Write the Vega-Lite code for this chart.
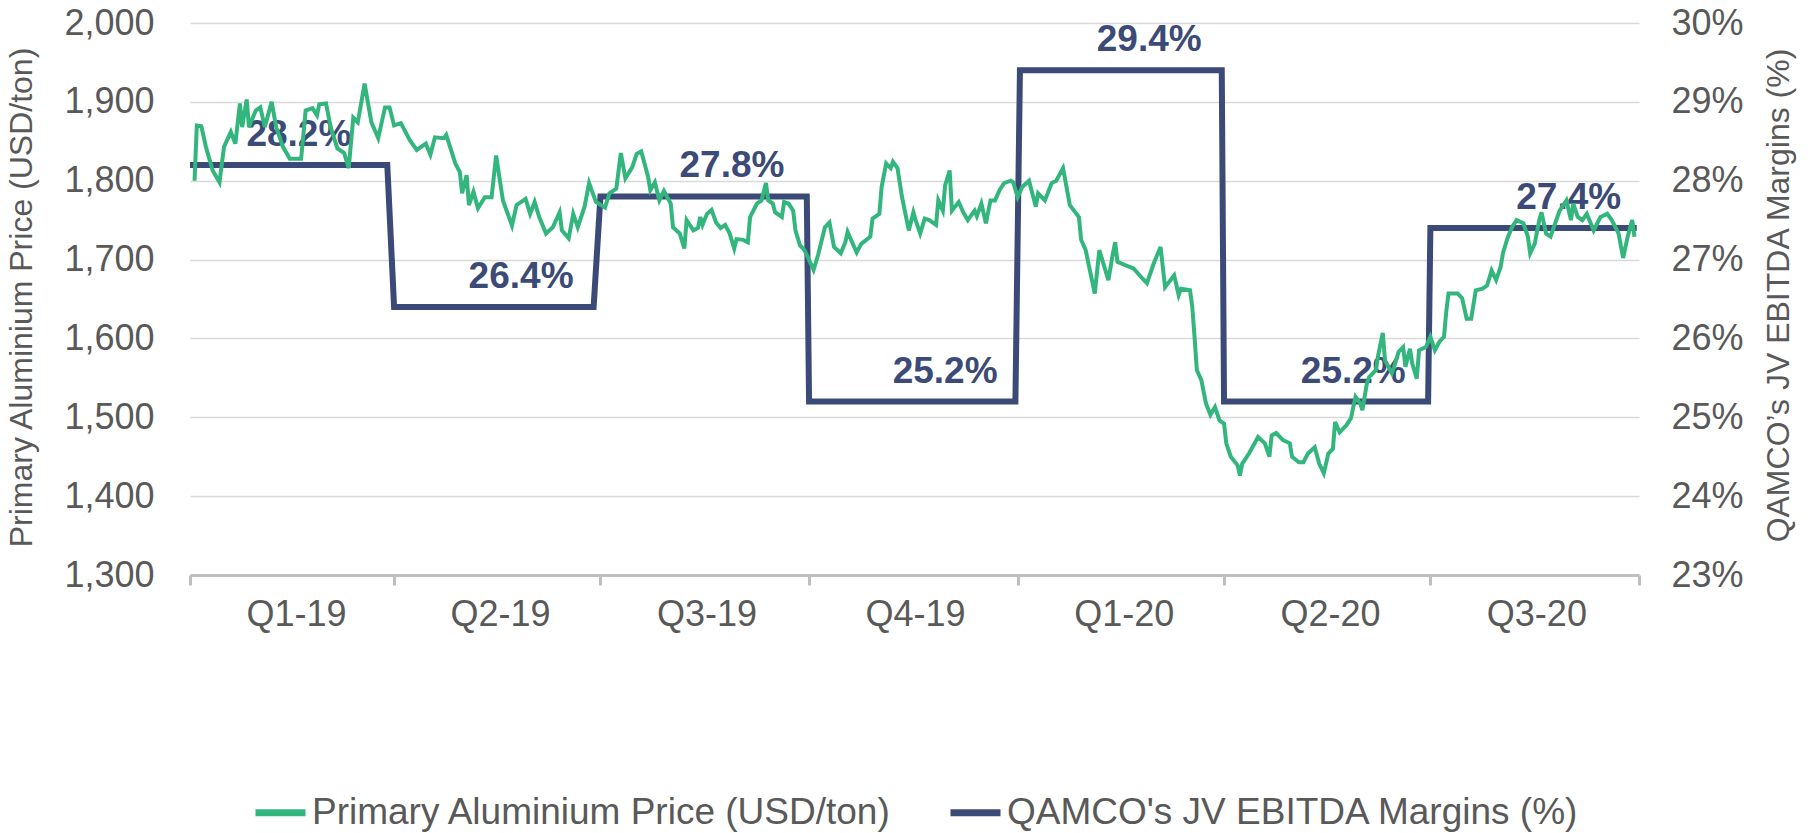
{
  "$schema": "https://vega.github.io/schema/vega-lite/v6.json",
  "autosize": {"type": "none"},
  "padding": {"left": 190, "top": 23, "right": 171, "bottom": 258},
  "width": 1449,
  "height": 552,
  "background": "#ffffff",
  "config": {
    "view": {"stroke": null},
    "font": "Liberation Sans",
    "axis": {"labelFont": "Liberation Sans", "titleFont": "Liberation Sans", "labelColor": "#595959", "titleColor": "#595959", "titleFontWeight": "normal"}
  },
  "datasets": {
    "prices": [
      {"date": "2019-01-03", "price": 1800}, {"date": "2019-01-04", "price": 1870}, {"date": "2019-01-06", "price": 1869}, {"date": "2019-01-08", "price": 1843},
      {"date": "2019-01-11", "price": 1813}, {"date": "2019-01-14", "price": 1798}, {"date": "2019-01-16", "price": 1843}, {"date": "2019-01-19", "price": 1862},
      {"date": "2019-01-21", "price": 1847}, {"date": "2019-01-23", "price": 1898}, {"date": "2019-01-24", "price": 1868}, {"date": "2019-01-26", "price": 1903},
      {"date": "2019-01-27", "price": 1868}, {"date": "2019-01-30", "price": 1889}, {"date": "2019-02-01", "price": 1893}, {"date": "2019-02-03", "price": 1868},
      {"date": "2019-02-06", "price": 1900}, {"date": "2019-02-08", "price": 1868}, {"date": "2019-02-11", "price": 1843}, {"date": "2019-02-14", "price": 1828},
      {"date": "2019-02-19", "price": 1828}, {"date": "2019-02-21", "price": 1889}, {"date": "2019-02-24", "price": 1892}, {"date": "2019-02-26", "price": 1883},
      {"date": "2019-02-27", "price": 1897}, {"date": "2019-03-02", "price": 1898}, {"date": "2019-03-04", "price": 1868}, {"date": "2019-03-07", "price": 1841},
      {"date": "2019-03-10", "price": 1835}, {"date": "2019-03-12", "price": 1816}, {"date": "2019-03-14", "price": 1880}, {"date": "2019-03-16", "price": 1874},
      {"date": "2019-03-19", "price": 1923}, {"date": "2019-03-22", "price": 1874}, {"date": "2019-03-25", "price": 1854}, {"date": "2019-03-28", "price": 1893},
      {"date": "2019-03-30", "price": 1893}, {"date": "2019-04-01", "price": 1870}, {"date": "2019-04-04", "price": 1873}, {"date": "2019-04-08", "price": 1851},
      {"date": "2019-04-11", "price": 1839}, {"date": "2019-04-15", "price": 1847}, {"date": "2019-04-17", "price": 1833}, {"date": "2019-04-19", "price": 1855},
      {"date": "2019-04-23", "price": 1854}, {"date": "2019-04-24", "price": 1858}, {"date": "2019-04-28", "price": 1822}, {"date": "2019-04-30", "price": 1811},
      {"date": "2019-05-01", "price": 1784}, {"date": "2019-05-03", "price": 1807}, {"date": "2019-05-04", "price": 1769}, {"date": "2019-05-06", "price": 1786},
      {"date": "2019-05-08", "price": 1765}, {"date": "2019-05-11", "price": 1779}, {"date": "2019-05-14", "price": 1779}, {"date": "2019-05-16", "price": 1832},
      {"date": "2019-05-19", "price": 1775}, {"date": "2019-05-23", "price": 1743}, {"date": "2019-05-25", "price": 1769}, {"date": "2019-05-29", "price": 1777},
      {"date": "2019-05-31", "price": 1758}, {"date": "2019-06-02", "price": 1773}, {"date": "2019-06-04", "price": 1754}, {"date": "2019-06-07", "price": 1733},
      {"date": "2019-06-10", "price": 1741}, {"date": "2019-06-13", "price": 1760}, {"date": "2019-06-14", "price": 1737}, {"date": "2019-06-17", "price": 1727},
      {"date": "2019-06-19", "price": 1758}, {"date": "2019-06-21", "price": 1741}, {"date": "2019-06-24", "price": 1767}, {"date": "2019-06-26", "price": 1797},
      {"date": "2019-06-29", "price": 1773}, {"date": "2019-07-03", "price": 1766}, {"date": "2019-07-05", "price": 1784}, {"date": "2019-07-08", "price": 1790},
      {"date": "2019-07-10", "price": 1835}, {"date": "2019-07-12", "price": 1803}, {"date": "2019-07-15", "price": 1817}, {"date": "2019-07-17", "price": 1834},
      {"date": "2019-07-19", "price": 1837}, {"date": "2019-07-22", "price": 1805}, {"date": "2019-07-23", "price": 1788}, {"date": "2019-07-25", "price": 1798},
      {"date": "2019-07-27", "price": 1775}, {"date": "2019-07-29", "price": 1787}, {"date": "2019-08-01", "price": 1771}, {"date": "2019-08-02", "price": 1741},
      {"date": "2019-08-05", "price": 1733}, {"date": "2019-08-07", "price": 1714}, {"date": "2019-08-08", "price": 1750}, {"date": "2019-08-11", "price": 1737},
      {"date": "2019-08-13", "price": 1740}, {"date": "2019-08-14", "price": 1754}, {"date": "2019-08-15", "price": 1744}, {"date": "2019-08-17", "price": 1758},
      {"date": "2019-08-19", "price": 1763}, {"date": "2019-08-21", "price": 1747}, {"date": "2019-08-23", "price": 1740}, {"date": "2019-08-25", "price": 1744},
      {"date": "2019-08-27", "price": 1733}, {"date": "2019-08-29", "price": 1714}, {"date": "2019-08-30", "price": 1726}, {"date": "2019-09-02", "price": 1725},
      {"date": "2019-09-04", "price": 1722}, {"date": "2019-09-05", "price": 1754}, {"date": "2019-09-08", "price": 1771}, {"date": "2019-09-10", "price": 1775},
      {"date": "2019-09-12", "price": 1797}, {"date": "2019-09-13", "price": 1775}, {"date": "2019-09-15", "price": 1771}, {"date": "2019-09-16", "price": 1760},
      {"date": "2019-09-19", "price": 1754}, {"date": "2019-09-20", "price": 1773}, {"date": "2019-09-22", "price": 1771}, {"date": "2019-09-24", "price": 1762},
      {"date": "2019-09-25", "price": 1737}, {"date": "2019-09-27", "price": 1718}, {"date": "2019-09-29", "price": 1712}, {"date": "2019-10-03", "price": 1687},
      {"date": "2019-10-05", "price": 1706}, {"date": "2019-10-08", "price": 1741}, {"date": "2019-10-10", "price": 1747}, {"date": "2019-10-12", "price": 1716},
      {"date": "2019-10-15", "price": 1708}, {"date": "2019-10-17", "price": 1722}, {"date": "2019-10-18", "price": 1735}, {"date": "2019-10-20", "price": 1722},
      {"date": "2019-10-22", "price": 1709}, {"date": "2019-10-24", "price": 1720}, {"date": "2019-10-28", "price": 1729}, {"date": "2019-10-29", "price": 1752},
      {"date": "2019-11-01", "price": 1758}, {"date": "2019-11-02", "price": 1792}, {"date": "2019-11-04", "price": 1822}, {"date": "2019-11-06", "price": 1816},
      {"date": "2019-11-07", "price": 1824}, {"date": "2019-11-09", "price": 1816}, {"date": "2019-11-11", "price": 1779}, {"date": "2019-11-14", "price": 1737},
      {"date": "2019-11-16", "price": 1760}, {"date": "2019-11-17", "price": 1750}, {"date": "2019-11-19", "price": 1733}, {"date": "2019-11-21", "price": 1752},
      {"date": "2019-11-23", "price": 1750}, {"date": "2019-11-26", "price": 1744}, {"date": "2019-11-27", "price": 1775}, {"date": "2019-11-29", "price": 1762},
      {"date": "2019-11-30", "price": 1794}, {"date": "2019-12-02", "price": 1813}, {"date": "2019-12-03", "price": 1762}, {"date": "2019-12-06", "price": 1773},
      {"date": "2019-12-08", "price": 1760}, {"date": "2019-12-10", "price": 1750}, {"date": "2019-12-13", "price": 1762}, {"date": "2019-12-14", "price": 1755},
      {"date": "2019-12-16", "price": 1771}, {"date": "2019-12-18", "price": 1746}, {"date": "2019-12-20", "price": 1775}, {"date": "2019-12-22", "price": 1775},
      {"date": "2019-12-24", "price": 1788}, {"date": "2019-12-26", "price": 1797}, {"date": "2019-12-29", "price": 1800}, {"date": "2019-12-30", "price": 1798},
      {"date": "2020-01-01", "price": 1779}, {"date": "2020-01-03", "price": 1792}, {"date": "2020-01-06", "price": 1800}, {"date": "2020-01-09", "price": 1767},
      {"date": "2020-01-10", "price": 1784}, {"date": "2020-01-13", "price": 1775}, {"date": "2020-01-16", "price": 1797}, {"date": "2020-01-18", "price": 1800},
      {"date": "2020-01-21", "price": 1816}, {"date": "2020-01-24", "price": 1769}, {"date": "2020-01-28", "price": 1754}, {"date": "2020-01-29", "price": 1725},
      {"date": "2020-01-31", "price": 1712}, {"date": "2020-02-02", "price": 1684}, {"date": "2020-02-04", "price": 1657}, {"date": "2020-02-06", "price": 1712},
      {"date": "2020-02-10", "price": 1674}, {"date": "2020-02-12", "price": 1708}, {"date": "2020-02-13", "price": 1722}, {"date": "2020-02-14", "price": 1697},
      {"date": "2020-02-19", "price": 1691}, {"date": "2020-02-21", "price": 1689}, {"date": "2020-02-25", "price": 1676}, {"date": "2020-02-27", "price": 1670},
      {"date": "2020-03-01", "price": 1695}, {"date": "2020-03-04", "price": 1716}, {"date": "2020-03-06", "price": 1665}, {"date": "2020-03-10", "price": 1680},
      {"date": "2020-03-12", "price": 1655}, {"date": "2020-03-13", "price": 1663}, {"date": "2020-03-17", "price": 1661}, {"date": "2020-03-18", "price": 1640},
      {"date": "2020-03-19", "price": 1602}, {"date": "2020-03-20", "price": 1560}, {"date": "2020-03-22", "price": 1547}, {"date": "2020-03-24", "price": 1518},
      {"date": "2020-03-26", "price": 1503}, {"date": "2020-03-28", "price": 1513}, {"date": "2020-03-30", "price": 1496}, {"date": "2020-04-01", "price": 1492},
      {"date": "2020-04-02", "price": 1467}, {"date": "2020-04-04", "price": 1450}, {"date": "2020-04-07", "price": 1439}, {"date": "2020-04-08", "price": 1426},
      {"date": "2020-04-09", "price": 1441}, {"date": "2020-04-12", "price": 1454}, {"date": "2020-04-16", "price": 1475}, {"date": "2020-04-19", "price": 1467},
      {"date": "2020-04-21", "price": 1450}, {"date": "2020-04-22", "price": 1477}, {"date": "2020-04-24", "price": 1480}, {"date": "2020-04-27", "price": 1471},
      {"date": "2020-04-30", "price": 1467}, {"date": "2020-05-01", "price": 1450}, {"date": "2020-05-04", "price": 1443}, {"date": "2020-05-06", "price": 1443},
      {"date": "2020-05-08", "price": 1454}, {"date": "2020-05-11", "price": 1462}, {"date": "2020-05-13", "price": 1441}, {"date": "2020-05-15", "price": 1429},
      {"date": "2020-05-17", "price": 1454}, {"date": "2020-05-19", "price": 1460}, {"date": "2020-05-20", "price": 1494}, {"date": "2020-05-22", "price": 1481},
      {"date": "2020-05-25", "price": 1490}, {"date": "2020-05-27", "price": 1499}, {"date": "2020-05-28", "price": 1513}, {"date": "2020-05-29", "price": 1526},
      {"date": "2020-05-31", "price": 1518}, {"date": "2020-06-01", "price": 1509}, {"date": "2020-06-02", "price": 1526}, {"date": "2020-06-03", "price": 1543},
      {"date": "2020-06-04", "price": 1551}, {"date": "2020-06-07", "price": 1560}, {"date": "2020-06-08", "price": 1579}, {"date": "2020-06-10", "price": 1607},
      {"date": "2020-06-11", "price": 1572}, {"date": "2020-06-14", "price": 1556}, {"date": "2020-06-15", "price": 1564}, {"date": "2020-06-17", "price": 1583},
      {"date": "2020-06-19", "price": 1589}, {"date": "2020-06-20", "price": 1564}, {"date": "2020-06-22", "price": 1587}, {"date": "2020-06-23", "price": 1568},
      {"date": "2020-06-25", "price": 1549}, {"date": "2020-06-26", "price": 1585}, {"date": "2020-06-29", "price": 1589}, {"date": "2020-07-01", "price": 1602},
      {"date": "2020-07-03", "price": 1585}, {"date": "2020-07-05", "price": 1596}, {"date": "2020-07-07", "price": 1602}, {"date": "2020-07-08", "price": 1634},
      {"date": "2020-07-09", "price": 1657}, {"date": "2020-07-13", "price": 1657}, {"date": "2020-07-15", "price": 1651}, {"date": "2020-07-17", "price": 1625},
      {"date": "2020-07-19", "price": 1625}, {"date": "2020-07-21", "price": 1661}, {"date": "2020-07-24", "price": 1663}, {"date": "2020-07-26", "price": 1667},
      {"date": "2020-07-28", "price": 1686}, {"date": "2020-07-30", "price": 1674}, {"date": "2020-08-01", "price": 1691}, {"date": "2020-08-02", "price": 1708},
      {"date": "2020-08-04", "price": 1727}, {"date": "2020-08-06", "price": 1741}, {"date": "2020-08-08", "price": 1750}, {"date": "2020-08-11", "price": 1746},
      {"date": "2020-08-13", "price": 1729}, {"date": "2020-08-14", "price": 1708}, {"date": "2020-08-16", "price": 1720}, {"date": "2020-08-18", "price": 1750},
      {"date": "2020-08-19", "price": 1760}, {"date": "2020-08-21", "price": 1733}, {"date": "2020-08-23", "price": 1729}, {"date": "2020-08-25", "price": 1746},
      {"date": "2020-08-27", "price": 1762}, {"date": "2020-08-30", "price": 1775}, {"date": "2020-09-01", "price": 1750}, {"date": "2020-09-02", "price": 1771},
      {"date": "2020-09-04", "price": 1754}, {"date": "2020-09-06", "price": 1750}, {"date": "2020-09-08", "price": 1758}, {"date": "2020-09-11", "price": 1737},
      {"date": "2020-09-14", "price": 1754}, {"date": "2020-09-17", "price": 1758}, {"date": "2020-09-19", "price": 1750}, {"date": "2020-09-22", "price": 1733},
      {"date": "2020-09-24", "price": 1702}, {"date": "2020-09-26", "price": 1729}, {"date": "2020-09-28", "price": 1750}, {"date": "2020-09-29", "price": 1729}
    ],
    "margins": [
      {"date": "2019-01-01", "margin": 28.2}, {"date": "2019-03-29", "margin": 28.2},
      {"date": "2019-04-01", "margin": 26.4}, {"date": "2019-06-28", "margin": 26.4},
      {"date": "2019-07-01", "margin": 27.8}, {"date": "2019-09-30", "margin": 27.8},
      {"date": "2019-10-01", "margin": 25.2}, {"date": "2019-12-31", "margin": 25.2},
      {"date": "2020-01-02", "margin": 29.4}, {"date": "2020-03-31", "margin": 29.4},
      {"date": "2020-04-01", "margin": 25.2}, {"date": "2020-06-30", "margin": 25.2},
      {"date": "2020-07-01", "margin": 27.4}, {"date": "2020-09-30", "margin": 27.4}
    ],
    "labels": [
      {"date": "2019-02-18", "margin": 28.2, "label": "28.2%"},
      {"date": "2019-05-27", "margin": 26.4, "label": "26.4%"},
      {"date": "2019-08-28", "margin": 27.8, "label": "27.8%"},
      {"date": "2019-11-30", "margin": 25.2, "label": "25.2%"},
      {"date": "2020-02-28", "margin": 29.4, "label": "29.4%"},
      {"date": "2020-05-28", "margin": 25.2, "label": "25.2%"},
      {"date": "2020-08-31", "margin": 27.4, "label": "27.4%"}
    ]
  },
  "layer": [
    {
      "layer": [
        {
          "data": {"name": "margins"},
          "mark": {"type": "line", "strokeWidth": 6, "strokeJoin": "miter", "interpolate": "linear"},
          "encoding": {
            "x": {
              "field": "date", "type": "temporal",
              "scale": {"domain": [{"year": 2019, "month": 1, "date": 1}, {"year": 2020, "month": 10, "date": 1}]},
              "axis": {
                "orient": "bottom", "title": null, "grid": false,
                "values": [
                  {"year": 2019, "month": 1, "date": 1}, {"year": 2019, "month": 4, "date": 1}, {"year": 2019, "month": 7, "date": 1}, {"year": 2019, "month": 10, "date": 1},
                  {"year": 2020, "month": 1, "date": 1}, {"year": 2020, "month": 4, "date": 1}, {"year": 2020, "month": 7, "date": 1}, {"year": 2020, "month": 10, "date": 1}
                ],
                "labelExpr": "(year(datum.value) == 2020 && month(datum.value) == 9) ? '' : 'Q' + quarter(datum.value) + '-' + timeFormat(datum.value, '%y')",
                "labelOffset": 106, "labelPadding": 12, "labelFontSize": 36, "labelOverlap": false, "labelFlush": false, "labelBound": false,
                "domainColor": "#BFBFBF", "domainWidth": 3, "tickColor": "#BFBFBF", "tickWidth": 3, "tickSize": 10
              }
            },
            "y": {
              "field": "margin", "type": "quantitative",
              "scale": {"domain": [23, 30], "zero": false, "nice": false},
              "axis": {
                "orient": "right", "values": [23, 24, 25, 26, 27, 28, 29, 30],
                "labelExpr": "datum.value + '%'", "grid": false, "domain": false, "ticks": false, "tickSize": 0,
                "labelPadding": 32, "labelFontSize": 36,
                "title": "QAMCO’s JV EBITDA Margins (%)", "titleFontSize": 32,
                "titleAngle": -90, "titleX": 139, "titleY": 272, "titleAlign": "center", "titleBaseline": "middle"
              }
            },
            "color": {"datum": "QAMCO's JV EBITDA Margins (%)"}
          }
        },
        {
          "data": {"name": "labels"},
          "mark": {"type": "text", "fontSize": 37, "fontWeight": "bold", "font": "Liberation Sans", "color": "#3C4A77", "baseline": "alphabetic", "align": "center", "dy": -19},
          "encoding": {
            "x": {"field": "date", "type": "temporal"},
            "y": {"field": "margin", "type": "quantitative"},
            "text": {"field": "label"}
          }
        }
      ]
    },
    {
      "data": {"name": "prices"},
      "mark": {"type": "line", "strokeWidth": 4, "interpolate": "linear"},
      "encoding": {
        "x": {"field": "date", "type": "temporal"},
        "y": {
          "field": "price", "type": "quantitative",
          "scale": {"domain": [1300, 2000], "zero": false, "nice": false},
          "axis": {
            "orient": "left", "values": [1300, 1400, 1500, 1600, 1700, 1800, 1900, 2000], "format": ",.0f",
            "grid": true, "gridColor": "#D9D9D9", "gridWidth": 1.5, "domain": false, "ticks": false, "tickSize": 0,
            "labelPadding": 36, "labelFontSize": 36,
            "title": "Primary Aluminium Price (USD/ton)", "titleFontSize": 32,
            "titleAngle": -90, "titleX": -169, "titleY": 274, "titleAlign": "center", "titleBaseline": "middle"
          }
        },
        "color": {
          "datum": "Primary Aluminium Price (USD/ton)",
          "scale": {"domain": ["Primary Aluminium Price (USD/ton)", "QAMCO's JV EBITDA Margins (%)"], "range": ["#33B67E", "#3C4A77"]},
          "legend": {
            "orient": "none", "legendX": 62, "legendY": 761, "direction": "horizontal", "title": null,
            "symbolType": "stroke", "symbolSize": 2500, "symbolStrokeWidth": 7,
            "labelFontSize": 37, "labelFont": "Liberation Sans", "labelColor": "#595959", "labelLimit": 0,
            "columnPadding": 44, "labelOffset": 3, "padding": 0
          }
        }
      }
    }
  ],
  "resolve": {"scale": {"y": "independent"}}
}
